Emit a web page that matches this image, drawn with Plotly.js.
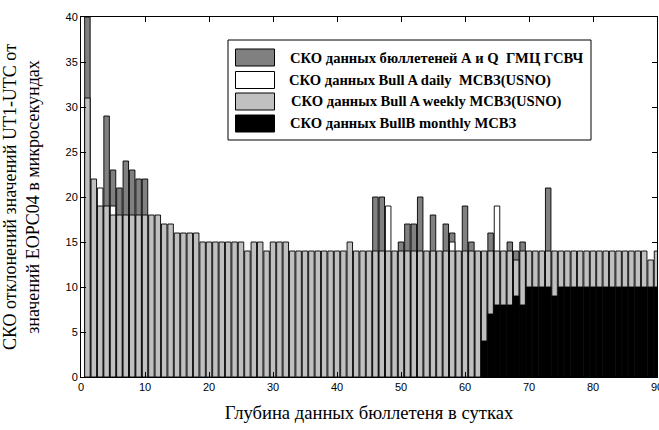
<!DOCTYPE html>
<html>
<head>
<meta charset="utf-8">
<script src="https://cdn.plot.ly/plotly-3.0.1.min.js"></script>
<style>html,body{margin:0;padding:0;background:#fff;}#chart{width:659px;height:430px;}</style>
</head>
<body>
<div id="chart"></div>
<script>
// Depth of bulletin data, days
const days = [1,2,3,4,5,6,7,8,9,10,11,12,13,14,15,16,17,18,19,20,
  21,22,23,24,25,26,27,28,29,30,31,32,33,34,35,36,37,38,39,40,
  41,42,43,44,45,46,47,48,49,50,51,52,53,54,55,56,57,58,59,60,
  61,62,63,64,65,66,67,68,69,70,71,72,73,74,75,76,77,78,79,80,
  81,82,83,84,85,86,87,88,89,90];

// СКО данных бюллетеней А и Q ГМЦ ГСВЧ (visible parts only)
const seriesAQ = [40,null,null,29,23,21,24,23,22,22,
  null,null,null,null,null,null,null,null,null,null,
  null,null,null,null,null,null,null,null,null,null,
  null,null,null,null,null,null,null,null,null,null,
  null,null,null,null,null,20,20,null,null,15,
  17,17,20,null,18,null,17,16,null,19,
  15,null,null,16,null,null,15,14,15,null,
  null,null,21,null,null,null,null,null,null,null,
  null,null,null,null,null,null,null,null,null,null];

// СКО данных Bull A daily МСВЗ(USNO) (visible parts only)
const seriesDaily = [null,null,21,null,19,null,null,null,null,null,
  null,null,null,null,null,null,null,null,null,null,
  null,null,null,null,null,null,null,null,null,null,
  null,null,null,null,null,null,null,null,null,null,
  null,null,null,null,null,null,null,19,null,null,
  null,null,null,null,null,null,null,15,null,null,
  null,null,null,null,19,null,null,null,null,null,
  null,null,null,null,null,null,null,null,null,null,
  null,null,null,null,null,null,null,null,null,null];

// СКО данных Bull A weekly МСВЗ(USNO)
const seriesWeekly = [31,22,19,19,18,18,18,18,18,18,
  18,18,17,17,16,16,16,16,15,15,
  15,15,15,15,15,14,15,15,14,15,
  15,15,14,14,14,14,14,14,14,14,
  14,15,14,14,14,14,14,14,14,14,
  14,14,14,14,14,14,14,14,14,14,
  14,14,14,14,14,14,14,13,14,14,
  14,14,14,14,14,14,14,14,14,14,
  14,14,14,14,14,14,14,14,13,14];

// СКО данных BullB monthly МСВЗ
const seriesMonthly = [null,null,null,null,null,null,null,null,null,null,
  null,null,null,null,null,null,null,null,null,null,
  null,null,null,null,null,null,null,null,null,null,
  null,null,null,null,null,null,null,null,null,null,
  null,null,null,null,null,null,null,null,null,null,
  null,null,null,null,null,null,null,null,null,null,
  null,null,4,7,8,8,8,9,8,10,
  10,10,10,9,10,10,10,10,10,10,
  10,10,10,10,10,10,10,10,10,10];

const seriesNames = [
  "СКО данных бюллетеней А и Q  ГМЦ ГСВЧ",
  "СКО данных Bull A daily  МСВЗ(USNO)",
  "СКО данных Bull A weekly МСВЗ(USNO)",
  "СКО данных BullB monthly МСВЗ"
];
const seriesColors = ["#808080", "#ffffff", "#c0c0c0", "#000000"];
const xTitle = "Глубина данных бюллетеня в сутках";
const yTitle = "СКО отклонений значений UT1-UTC от<br>значений EOPC04 в микросекундах";
const xTicks = [0,10,20,30,40,50,60,70,80,90];
const yTicks = [0,5,10,15,20,25,30,35,40];

const allSeries = [seriesAQ, seriesDaily, seriesWeekly, seriesMonthly];
const traces = allSeries.map((vals, i) => ({
  type: "bar",
  x: days,
  y: vals,
  name: seriesNames[i],
  width: 0.86,
  marker: { color: seriesColors[i], line: { color: "#000", width: 0.9 } },
  showlegend: false,
  hoverinfo: "x+y+name"
}));

// Manual legend (box with large patches, as in the reference)
const W = 576, H = 360, L = 81, T = 17;
const px = v => (v - L) / W;
const py = v => (T + H - v) / H;
const shapes = [{
  type: "rect", xref: "paper", yref: "paper",
  x0: px(228), x1: px(591), y0: py(140), y1: py(40),
  line: { color: "#000", width: 1 }, fillcolor: "#fff", layer: "above"
}];
const rowCenters = [57.5, 80, 101.5, 123.5];
const textLeft = [288, 287, 289, 288];
const annotations = [];
seriesNames.forEach((nm, i) => {
  shapes.push({
    type: "rect", xref: "paper", yref: "paper",
    x0: px(235.5), x1: px(274.5), y0: py(rowCenters[i] + 8.5), y1: py(rowCenters[i] - 8.5),
    line: { color: "#000", width: 1 }, fillcolor: seriesColors[i], layer: "above"
  });
  annotations.push({
    xref: "paper", yref: "paper", x: px(textLeft[i]), y: py(rowCenters[i]),
    xanchor: "left", yanchor: "middle", showarrow: false,
    text: "<b>" + nm + "</b>",
    font: { family: "Liberation Serif, Times New Roman, serif", size: 14.6, color: "#000" }
  });
});

const axisCommon = {
  showline: true, linecolor: "#000", linewidth: 1, mirror: "ticks",
  ticks: "inside", ticklen: 5, tickwidth: 1, tickcolor: "#000",
  showgrid: false, zeroline: false, ticklabeloverflow: "allow",
  tickfont: { family: "Liberation Sans, Arial, sans-serif", size: 11, color: "#000" }
};

const layout = {
  width: 659, height: 430,
  margin: { l: 81, r: 2, t: 17, b: 53, pad: 0 },
  paper_bgcolor: "#fff", plot_bgcolor: "#fff",
  barmode: "overlay",
  showlegend: false,
  xaxis: Object.assign({}, axisCommon, {
    range: [0, 90], tickvals: xTicks, ticktext: xTicks.map(String), automargin: false,
    title: { text: xTitle, standoff: 13,
      font: { family: "Liberation Serif, Times New Roman, serif", size: 18.6, color: "#000" } }
  }),
  yaxis: Object.assign({}, axisCommon, {
    range: [0, 40], tickvals: yTicks, ticktext: yTicks.map(String), automargin: false,
    title: { text: yTitle, standoff: 22,
      font: { family: "Liberation Serif, Times New Roman, serif", size: 18, color: "#000" } }
  }),
  shapes: shapes,
  annotations: annotations
};

Plotly.newPlot("chart", traces, layout, { displayModeBar: false, staticPlot: true });
</script>
</body>
</html>
